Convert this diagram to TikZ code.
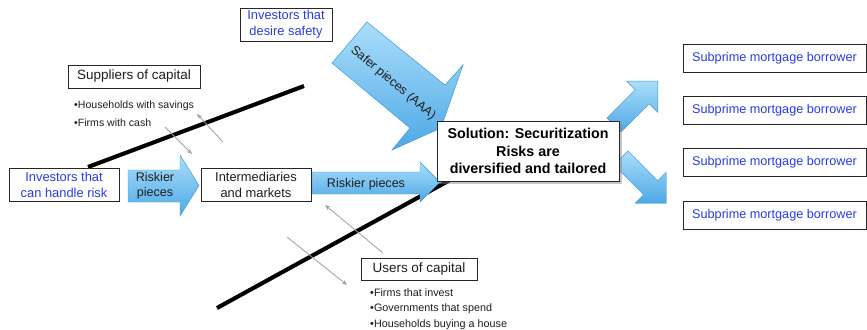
\documentclass[tikz,border=0pt]{standalone}
\usepackage{fontspec}
\setmainfont{Liberation Sans}
\usetikzlibrary{arrows.meta,shadows}
\definecolor{txtblue}{RGB}{40,60,225}
\definecolor{arrtop}{RGB}{170,222,250}
\definecolor{arrbot}{RGB}{78,168,230}
\definecolor{arredge}{RGB}{60,150,212}
\definecolor{txtdark}{RGB}{30,30,30}
\tikzset{
  box/.style={draw=black!85, line width=0.6pt, fill=white, inner sep=0pt, align=center, text=txtdark},
  bluebox/.style={box, text=txtblue},
  barrow/.style={draw=arredge, line width=0.4pt, top color=arrtop, bottom color=arrbot},
  thickline/.style={line width=3.5pt, black},
  thinarrow/.style={draw=gray!75, line width=0.7pt, -{Stealth[length=4.5pt,width=3.5pt]}},
  bullet/.style={inner sep=0pt, anchor=base west, text=txtdark, font=\fontsize{9}{11}\selectfont},
  arrtext/.style={inner sep=0pt, align=center, text=txtdark, font=\fontsize{10.7}{12.8}\selectfont},
}
\begin{document}
\begin{tikzpicture}[x=0.03cm,y=-0.03cm]
\useasboundingbox (0,0) rectangle (867,329);

% thick lines
\coordinate (ul1) at (88,167); \coordinate (ul2) at (304,86);
\coordinate (ll1) at (217,308); \coordinate (ll2) at (470,169);
\draw[thickline] (ul1) -- (ul2);
\draw[thickline] (ll1) -- (ll2);

% thin gray arrows
\coordinate (g1a) at (165,127); \coordinate (g1b) at (192,154);
\coordinate (g2a) at (223,142); \coordinate (g2b) at (197,114);
\coordinate (g3a) at (383,253); \coordinate (g3b) at (325,205);
\coordinate (g4a) at (287,237); \coordinate (g4b) at (347,285);
\draw[thinarrow] (g1a) -- (g1b);
\draw[thinarrow] (g2a) -- (g2b);
\draw[thinarrow] (g3a) -- (g3b);
\draw[thinarrow] (g4a) -- (g4b);

% block arrows
\path[barrow] (128,170) -- (180,170) -- (180,155) -- (199,185.5) -- (180,216) -- (180,202) -- (128,202) -- cycle;
\node[arrtext] (rp1) at (155,186) {Riskier\\pieces};

\path[barrow] (312,172) -- (420,172) -- (420,162) -- (440,182) -- (420,202) -- (420,194) -- (312,194) -- cycle;
\node[arrtext] (rp2) at (366,184) {Riskier pieces};

\path[barrow] (367,22) -- (445,85) -- (463,65) -- (441,128) -- (392,150) -- (410,128) -- (332,63) -- cycle;
\node[arrtext, rotate=-40] (safer) at (393,83) {Safer pieces (AAA)};

\begin{scope}[shift={(614,125)}, rotate=45]
\path[barrow] (0,-10) -- (40,-10) -- (40,-22) -- (62,0) -- (40,22) -- (40,10) -- (0,10) -- cycle;
\end{scope}
\begin{scope}[shift={(621,158)}, rotate=-45]
\path[barrow] (0,-10) -- (42,-10) -- (42,-22) -- (64,0) -- (42,22) -- (42,10) -- (0,10) -- cycle;
\end{scope}

% boxes
\node[bluebox, minimum width=2.76cm, minimum height=0.99cm, font=\fontsize{11}{13.7}\selectfont] (safety) at (286,24.5) {Investors that\\desire safety};
\node[box, minimum width=3.96cm, minimum height=0.69cm, font=\fontsize{11.5}{13.5}\selectfont] (suppliers) at (134,76.5) {Suppliers of capital};
\node[bullet] (sb1) at (74,108) {•Households with savings};
\node[bullet] (sb2) at (74,126) {•Firms with cash};

\node[bluebox, minimum width=3.3cm, minimum height=0.99cm, font=\fontsize{11}{13.7}\selectfont] (handle) at (64,184.5) {Investors that\\can handle risk};
\node[box, minimum width=3.3cm, minimum height=0.99cm, font=\fontsize{11}{13.7}\selectfont] (inter) at (256,184.5) {Intermediaries\\and markets};

\node[box, minimum width=5.46cm, minimum height=1.8cm, font=\fontsize{12.2}{15}\selectfont\bfseries, text=black,
  drop shadow={shadow xshift=2.5pt, shadow yshift=-2.5pt, opacity=0.45}] (solution) at (528,151)
  {Solution: Securitization\\Risks are\\diversified and tailored};

\node[box, minimum width=3.48cm, minimum height=0.66cm, font=\fontsize{11.5}{13.5}\selectfont] (users) at (419,269) {Users of capital};
\node[bullet, font=\fontsize{9.2}{11}\selectfont] (ub1) at (370,296) {•Firms that invest};
\node[bullet, font=\fontsize{9.2}{11}\selectfont] (ub2) at (370,311.5) {•Governments that spend};
\node[bullet, font=\fontsize{9.2}{11}\selectfont] (ub3) at (370,327) {•Households buying a house};

\foreach \i/\y in {1/58.5, 2/110.5, 3/162.5, 4/215} {
  \node[bluebox, minimum width=5.49cm, minimum height=0.84cm, font=\fontsize{10.8}{13}\selectfont] (sub\i) at (774.5,\y) {Subprime mortgage borrower};
}
\end{tikzpicture}
\end{document}
